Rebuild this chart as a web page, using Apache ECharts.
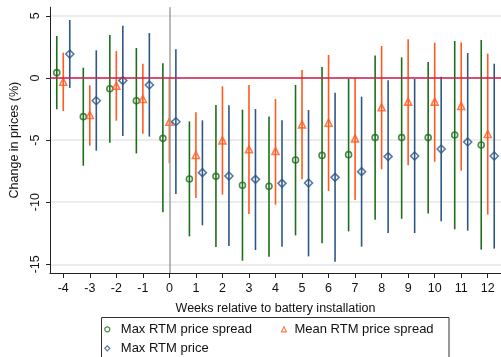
<!DOCTYPE html>
<html>
<head>
<meta charset="utf-8">
<script src="https://cdn.jsdelivr.net/npm/echarts@6/dist/echarts.min.js"></script>
<style>
html,body{margin:0;padding:0;background:#fff;}
#c{width:501px;height:357px;}
</style>
</head>
<body>
<div id="c"></div>
<script>
const weeks = [-4,-3,-2,-1,0,1,2,3,4,5,6,7,8,9,10,11,12];
const yTicks = [5,0,-5,-10,-15];

// Max RTM price spread
const spreadMax     = [0.43,-3.11,-0.86,-1.83,-4.86,-8.13,-7.92,-8.64,-8.72,-6.60,-6.23,-6.17,-4.80,-4.80,-4.80,-4.59,-5.39];
const spreadMaxLo   = [-2.52,-7.06,-5.21,-6.07,-10.81,-12.75,-13.60,-14.71,-14.39,-12.67,-13.30,-12.35,-11.41,-11.33,-10.90,-12.18,-13.82];
const spreadMaxHi   = [3.38,0.83,3.46,2.42,1.18,-3.49,-2.17,-2.55,-3.09,-0.56,0.89,-0.03,1.82,1.66,1.29,2.98,3.06];

// Mean RTM price spread
const spreadMean    = [-0.30,-2.98,-0.62,-1.69,-3.52,-6.20,-5.02,-5.74,-5.88,-3.73,-3.60,-4.86,-2.36,-1.90,-1.90,-2.25,-4.51];
const spreadMeanLo  = [-2.66,-5.45,-3.44,-4.48,-6.87,-9.66,-9.39,-10.95,-10.20,-8.16,-9.10,-9.82,-7.35,-7.03,-6.74,-7.46,-11.00];
const spreadMeanHi  = [2.04,-0.59,2.17,1.15,0.02,-2.76,-0.67,-0.56,-1.69,0.64,1.85,0.05,2.58,3.11,2.84,2.87,1.96];

// Max RTM price
const priceMax      = [1.93,-1.83,-0.21,-0.56,-3.52,-7.62,-7.89,-8.16,-8.48,-8.45,-8.00,-7.54,-6.33,-6.28,-5.72,-5.15,-6.28];
const priceMaxLo    = [-0.80,-5.85,-4.67,-4.72,-9.34,-11.86,-13.53,-13.85,-13.58,-14.36,-14.79,-13.58,-12.48,-12.48,-11.54,-12.29,-13.74];
const priceMaxHi    = [4.67,2.23,4.21,3.62,2.31,-3.41,-2.20,-2.50,-3.41,-2.58,-1.18,-1.50,-0.19,-0.08,0.10,2.01,1.15];

const names = ['Max RTM price spread','Mean RTM price spread','Max RTM price'];
const colors = ['#1c6e1c','#ff5a1f','#2c5886'];
const offsets = [-0.245, 0, 0.245];
const symbols = ['circle','triangle','diamond'];
const symSizes = [6, 7, 8];
const groups = [
  [spreadMax, spreadMaxLo, spreadMaxHi],
  [spreadMean, spreadMeanLo, spreadMeanHi],
  [priceMax, priceMaxLo, priceMaxHi]
];

const FONT = 'Liberation Sans, Arial, Helvetica, sans-serif';
const series = [];

series.push({
  type: 'line', data: [], z: 1, silent: true,
  markLine: {
    symbol: 'none', silent: true, animation: false,
    label: {show: false},
    lineStyle: {color: '#a0a0a0', width: 1.5, type: 'solid'},
    data: [{xAxis: 0}]
  }
});

groups.forEach((g, i) => {
  const ciData = weeks.map((w, k) => [w + offsets[i], g[1][k], g[2][k]]);
  series.push({
    type: 'custom', name: names[i] + ' CI', z: 2, silent: true,
    data: ciData,
    encode: {x: 0, y: [1, 2]},
    renderItem: function (params, api) {
      const p1 = api.coord([api.value(0), api.value(1)]);
      const p2 = api.coord([api.value(0), api.value(2)]);
      return {
        type: 'line',
        shape: {x1: p1[0], y1: p1[1], x2: p2[0], y2: p2[1]},
        style: {stroke: colors[i], lineWidth: 1.6}
      };
    }
  });
});

series.push({
  type: 'line', data: [], z: 3, silent: true,
  markLine: {
    symbol: 'none', silent: true, animation: false,
    label: {show: false},
    lineStyle: {color: '#cf1f4c', width: 1.6, type: 'solid'},
    data: [{yAxis: 0}]
  }
});

groups.forEach((g, i) => {
  series.push({
    type: 'scatter', name: names[i], z: 4,
    symbol: symbols[i], symbolSize: symSizes[i],
    itemStyle: {color: 'rgba(255,255,255,0)', borderColor: colors[i], borderWidth: 1.6},
    data: weeks.map((w, k) => [w + offsets[i], g[0][k]])
  });
});

function legendItem(i) {
  return {
    name: names[i], icon: symbols[i],
    itemStyle: {color: 'rgba(255,255,255,0)', borderColor: colors[i], borderWidth: 1.2}
  };
}

const chart = echarts.init(document.getElementById('c'), null, {renderer: 'canvas'});
chart.setOption({
  animation: false,
  backgroundColor: '#ffffff',
  textStyle: {fontFamily: FONT},
  grid: {left: 43.7, right: -5.9, top: 7.2, bottom: 84, containLabel: false},
  xAxis: {
    type: 'value', min: -4.5, max: 12.5,
    name: 'Weeks relative to battery installation',
    nameLocation: 'middle', nameGap: 29,
    nameTextStyle: {fontSize: 12.5, color: '#111', fontFamily: FONT},
    axisLine: {show: true, onZero: false, lineStyle: {color: '#222', width: 1}},
    axisTick: {show: true, length: 5, customValues: weeks, lineStyle: {color: '#222'}},
    axisLabel: {customValues: weeks, margin: 9, fontSize: 12.5, color: '#111', fontFamily: FONT},
    splitLine: {show: false}
  },
  yAxis: {
    type: 'value', min: -15.7, max: 5.7,
    name: 'Change in prices (%)',
    nameLocation: 'middle', nameGap: 29, nameRotate: 90,
    nameTextStyle: {fontSize: 12.5, color: '#111', fontFamily: FONT},
    axisLine: {show: true, onZero: false, lineStyle: {color: '#222', width: 1}},
    axisTick: {show: true, length: 4, customValues: yTicks, lineStyle: {color: '#222'}},
    axisLabel: {customValues: yTicks, rotate: 90, margin: 8, fontSize: 12.5, color: '#111', fontFamily: FONT},
    splitLine: {show: true, lineStyle: {color: '#e6e6e6', width: 1.5}}
  },
  legend: [
    {
      orient: 'vertical', left: 104.2, top: 322.3, padding: 0,
      data: [legendItem(0), legendItem(2)],
      itemWidth: 5, itemHeight: 5, itemGap: 5,
      textStyle: {fontSize: 13, color: '#111', fontFamily: FONT, lineHeight: 14, padding: [0,0,0,6]},
      selectedMode: false
    },
    {
      orient: 'vertical', left: 280.8, top: 322.3, padding: 0,
      data: [legendItem(1)],
      itemWidth: 5, itemHeight: 5, itemGap: 5,
      textStyle: {fontSize: 13, color: '#111', fontFamily: FONT, lineHeight: 14, padding: [0,0,0,3]},
      selectedMode: false
    }
  ],
  graphic: [{
    type: 'rect', silent: true,
    shape: {x: 101.5, y: 317.5, width: 347.5, height: 60},
    style: {fill: 'none', stroke: '#333', lineWidth: 1}
  }],
  series: series
});
</script>
</body>
</html>
